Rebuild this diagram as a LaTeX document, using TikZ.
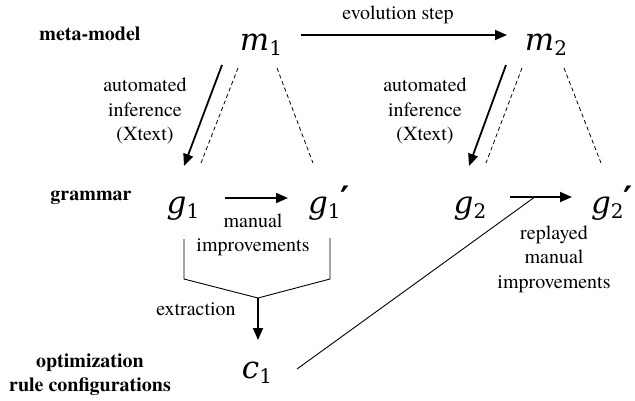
\documentclass[tikz,border=0pt]{standalone}
\usepackage{fontspec}
\IfFontExistsTF{texgyretermes-regular.otf}
  {\setmainfont{texgyretermes}[Extension=.otf,UprightFont=*-regular,BoldFont=*-bold,ItalicFont=*-italic,BoldItalicFont=*-bolditalic]}
  {\setmainfont{Liberation Serif}}
\newfontfamily\dvsi{DejaVu Serif}[UprightFont=*-Italic]
\newfontfamily\dvs{DejaVu Serif}
\newfontfamily\dvsans{DejaVu Sans}
\newcommand\mvar[2]{{\fontsize{31}{34}\selectfont\dvsi #1}\raisebox{-5pt}{\fontsize{20}{20}\selectfont\dvs #2}}
\newcommand\mprime{\raisebox{2pt}{\fontsize{35}{36}\selectfont\dvsans\bfseries\symbol{"2032}}}
\usetikzlibrary{arrows.meta,calc}
\begin{document}
\begin{tikzpicture}[x=1pt,y=-1pt,
  lbl/.style={font=\fontsize{20}{24}\selectfont\bfseries, align=center, inner sep=0pt},
  txt/.style={font=\fontsize{20}{24.5}\selectfont, align=center, inner sep=0pt},
  mth/.style={inner sep=0pt, anchor=base},
  arr/.style={line width=1.8pt, -{Triangle[length=12pt,width=10pt]}},
  thin/.style={line width=0.9pt},
  dsh/.style={line width=0.8pt, dash pattern=on 4pt off 3pt}]
\useasboundingbox (0,0) rectangle (635,400);
% row labels
\node[lbl] (lmm) at (90,34) {meta-model};
\node[lbl] (lgr) at (91,198) {grammar};
\node[lbl] (lor) at (90,375) {optimization\\rule configurations};
% math nodes
\node[mth] (m1) at (261,50) {\mvar{m}{1}};
\node[mth] (m2) at (546,50) {\mvar{m}{2}};
\node[mth] (g1) at (183,213) {\mvar{g}{1}};
\node[mth] (g1p) at (329,213) {\mvar{g}{1}\mprime};
\node[mth] (g2) at (470,213) {\mvar{g}{2}};
\node[mth] (g2p) at (612,213) {\mvar{g}{2}\mprime};
\node[mth] (c1) at (257,378) {\mvar{c}{1}};
% text labels
\node[txt] (evo) at (398,15) {evolution step};
\node[txt] (ai1) at (145,111) {automated\\inference\\(Xtext)};
\node[txt] (ai2) at (425,111) {automated\\inference\\(Xtext)};
\node[txt] (mi1) at (253,235) {manual\\improvements};
\node[txt] (rmi) at (554,259) {replayed\\manual\\improvements};
\node[txt] (ext) at (196,309) {extraction};
% evolution
\draw[arr] ($(m1.base)+(40,-15)$) -- ($(m2.base)+(-39,-15)$);
% inference arrows and dashed triangles
\draw[arr] ($(m1.base)+(-39,15)$) -- ($(g1.base)+(1,-47)$);
\draw[dsh] ($(m1.base)+(-23,18)$) -- ($(g1.base)+(18,-50)$);
\draw[dsh] ($(m1.base)+(16,18)$) -- ($(g1p.base)+(-16,-50)$);
\draw[arr] ($(m2.base)+(-40,15)$) -- ($(g2.base)+(-1,-47)$);
\draw[dsh] ($(m2.base)+(-24,18)$) -- ($(g2.base)+(16,-50)$);
\draw[dsh] ($(m2.base)+(18,18)$) -- ($(g2p.base)+(-11,-50)$);
% manual improvements
\draw[arr] ($(g1.base)+(42,-15)$) -- ($(g1p.base)+(-41,-15)$);
\draw[arr] ($(g2.base)+(40,-16)$) -- coordinate[pos=0.4] (rep) ($(g2p.base)+(-40,-16)$);
% bracket and extraction
\coordinate (bj) at ($(c1.base)+(1,-80)$);
\draw[thin] ($(g1.base)+(1,26)$) -- ($(g1.base)+(1,66)$) -- (bj) -- ($(g1p.base)+(1,66)$) -- ($(g1p.base)+(1,25)$);
\draw[arr] (bj) -- ($(c1.base)+(1,-38)$);
% replay line
\draw[thin] ($(c1.base)+(40,-9)$) -- (rep);
\end{tikzpicture}
\end{document}
